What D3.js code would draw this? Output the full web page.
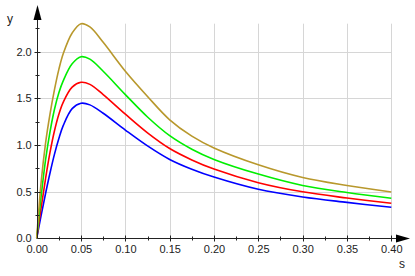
<!DOCTYPE html>
<html>
<head>
<meta charset="utf-8">
<script src="https://cdn.jsdelivr.net/npm/d3@7"></script>
<style>
  body { margin: 0; background: #fff; }
  svg { display: block; font-family: "Liberation Sans", Arial, sans-serif; }
</style>
</head>
<body>
<svg id="chart" width="415" height="276"></svg>
<script>
// sample positions along s
const sValues = [0, 0.005, 0.01, 0.015, 0.02, 0.025, 0.03, 0.04, 0.05, 0.06, 0.075, 0.1, 0.125, 0.15, 0.175, 0.2, 0.25, 0.3, 0.35, 0.4];

// curves (bottom to top)
const blueY  = [0, 0.245, 0.48, 0.70, 0.90, 1.07, 1.21, 1.39, 1.447, 1.43, 1.34, 1.16, 0.99, 0.845, 0.74, 0.656, 0.525, 0.443, 0.385, 0.332];
const redY   = [0, 0.33, 0.64, 0.92, 1.15, 1.33, 1.46, 1.62, 1.672, 1.65, 1.54, 1.33, 1.13, 0.962, 0.84, 0.742, 0.596, 0.498, 0.432, 0.375];
const greenY = [0, 0.45, 0.84, 1.14, 1.38, 1.56, 1.69, 1.87, 1.946, 1.92, 1.79, 1.54, 1.30, 1.10, 0.955, 0.845, 0.688, 0.566, 0.490, 0.429];
const oliveY = [0, 0.60, 1.02, 1.33, 1.59, 1.81, 1.98, 2.20, 2.30, 2.265, 2.10, 1.79, 1.52, 1.27, 1.095, 0.968, 0.788, 0.652, 0.566, 0.496];

const seriesColors = ['#0000ff', '#ff0000', '#00ee00', '#b8982c'];
const series = [blueY, redY, greenY, oliveY];

const xTicks = [0, 0.05, 0.1, 0.15, 0.2, 0.25, 0.3, 0.35, 0.4];
const yTicks = [0, 0.5, 1.0, 1.5, 2.0];

const svg = d3.select('#chart');

const x = d3.scaleLinear().domain([0, 0.4]).range([36.7, 391.3]);
const y = d3.scaleLinear().domain([0, 2.3]).range([238.3, 23.7]);

// grid
const grid = svg.append('g').attr('stroke', '#d6d6d6').attr('stroke-width', 1);
grid.selectAll('.vg').data(xTicks.slice(1))
  .enter().append('line')
  .attr('x1', d => Math.round(x(d)) + 0.5).attr('x2', d => Math.round(x(d)) + 0.5)
  .attr('y1', y(0)).attr('y2', y(2.3));
grid.selectAll('.hg').data(yTicks.slice(1))
  .enter().append('line')
  .attr('x1', x(0)).attr('x2', x(0.4))
  .attr('y1', d => Math.round(y(d)) + 0.5).attr('y2', d => Math.round(y(d)) + 0.5);

// curves
const line = d3.line()
  .x((d, i) => x(sValues[i]))
  .y(d => y(d))
  .curve(d3.curveCatmullRom.alpha(0.5));

svg.append('g').selectAll('path')
  .data(series)
  .enter().append('path')
  .attr('d', d => line(d))
  .attr('fill', 'none')
  .attr('stroke', (d, i) => seriesColors[i])
  .attr('stroke-width', 1.6);

// axes
const axisColor = '#222';
const x0 = Math.round(x(0)) + 0.5;
const y0 = Math.round(y(0)) + 0.5;

svg.append('line').attr('x1', x0).attr('x2', 398).attr('y1', y0).attr('y2', y0)
  .attr('stroke', axisColor);
svg.append('line').attr('x1', x0).attr('x2', x0).attr('y1', y0).attr('y2', 18)
  .attr('stroke', axisColor);
// arrow heads
svg.append('path').attr('d', `M396,${y0 - 4}L410,${y0}L396,${y0 + 4}Z`).attr('fill', '#000');
svg.append('path').attr('d', `M${x0 - 4},20L${x0},5L${x0 + 4},20Z`).attr('fill', '#000');

// tick marks
const xMinor = d3.range(0.025, 0.4, 0.05);
const yMinor = d3.range(0.25, 2.3, 0.5);
const tk = svg.append('g').attr('stroke', axisColor);
tk.selectAll('.xt').data(xTicks.slice(1)).enter().append('line')
  .attr('x1', d => Math.round(x(d)) + 0.5).attr('x2', d => Math.round(x(d)) + 0.5)
  .attr('y1', y0 - 3).attr('y2', y0 + 3);
tk.selectAll('.xm').data(xMinor).enter().append('line')
  .attr('x1', d => Math.round(x(d)) + 0.5).attr('x2', d => Math.round(x(d)) + 0.5)
  .attr('y1', y0 - 2).attr('y2', y0 + 2);
tk.selectAll('.yt').data(yTicks.slice(1)).enter().append('line')
  .attr('y1', d => Math.round(y(d)) + 0.5).attr('y2', d => Math.round(y(d)) + 0.5)
  .attr('x1', x0 - 3).attr('x2', x0 + 3);
tk.selectAll('.ym').data(yMinor).enter().append('line')
  .attr('y1', d => Math.round(y(d)) + 0.5).attr('y2', d => Math.round(y(d)) + 0.5)
  .attr('x1', x0 - 2).attr('x2', x0 + 2);

// tick labels via d3 axes
const xAxis = svg.append('g')
  .attr('transform', 'translate(0,' + y(0) + ')')
  .call(d3.axisBottom(x).tickValues(xTicks).tickFormat(d3.format('.2f')).tickSize(0).tickPadding(7));
const yAxis = svg.append('g')
  .attr('transform', 'translate(' + x(0) + ',0)')
  .call(d3.axisLeft(y).tickValues(yTicks).tickFormat(d3.format('.1f')).tickSize(0).tickPadding(5));
[xAxis, yAxis].forEach(a => {
  a.select('.domain').remove();
  a.selectAll('text').attr('font-size', 11).attr('fill', '#222')
    .attr('font-family', '"Liberation Sans", Arial, sans-serif');
});

// axis names
svg.append('text').attr('x', 10).attr('y', 23).attr('text-anchor', 'middle')
  .attr('font-size', 12).attr('fill', '#222').text('y');
svg.append('text').attr('x', 402).attr('y', 268).attr('text-anchor', 'middle')
  .attr('font-size', 12).attr('fill', '#222').text('s');
</script>
</body>
</html>
